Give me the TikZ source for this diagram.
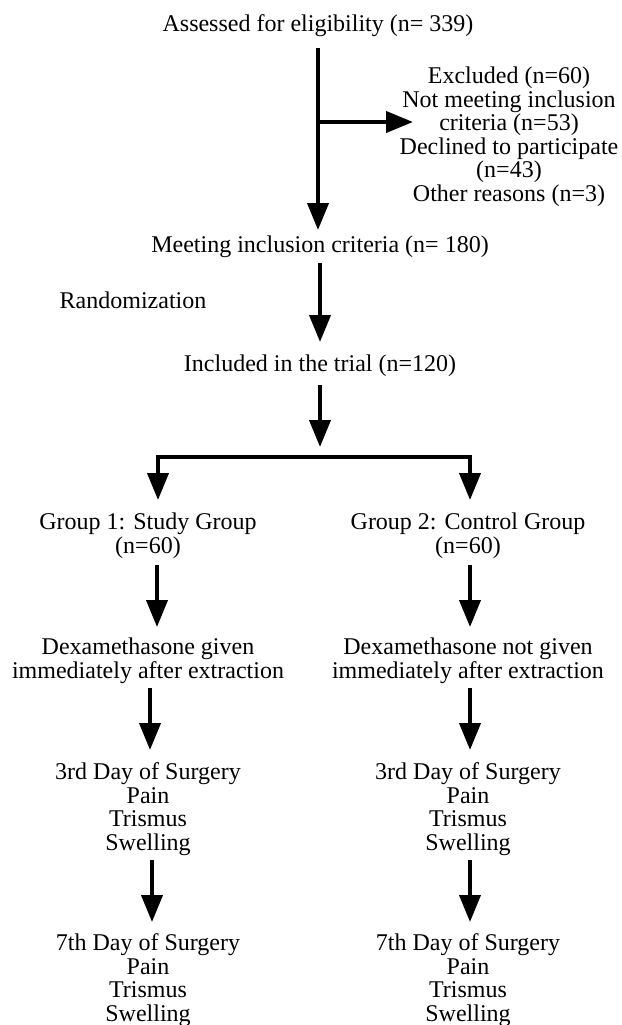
\documentclass[tikz,border=0pt]{standalone}
\usepackage{fontspec}
\setmainfont{Liberation Serif}
\usetikzlibrary{arrows.meta}
\begin{document}
\begin{tikzpicture}[x=1pt,y=-1pt,
  lbl/.style={align=center,inner sep=0pt,anchor=base,font=\fontsize{24}{23.5}\selectfont},
  arr/.style={line width=4pt,line join=miter,-{Triangle[width=21pt,length=27pt]}}]
\useasboundingbox (0,0) rectangle (621,1025);
\clip (0,0) rectangle (621,1025);
% texts (anchor base = baseline of the last line)
\node[lbl] (assess) at (318,32) {Assessed for eligibility (n= 339)};
\node[lbl] (excl) at (509,201) {Excluded (n=60)\\Not meeting inclusion\\criteria (n=53)\\Declined to participate\\(n=43)\\Other reasons (n=3)};
\node[lbl] (meet) at (320,252) {Meeting inclusion criteria (n= 180)};
\node[lbl] (rand) at (133,308) {Randomization};
\node[lbl] (incl) at (320,371) {Included in the trial (n=120)};
\node[lbl] (g1) at (148,553) {Group 1: Study Group\\(n=60)};
\node[lbl] (g2) at (468,553) {Group 2: Control Group\\(n=60)};
\node[lbl] (d1) at (148,678) {Dexamethasone given\\immediately after extraction};
\node[lbl] (d2) at (468,678) {Dexamethasone not given\\immediately after extraction};
\node[lbl] (t1) at (148,850) {3rd Day of Surgery\\Pain\\Trismus\\Swelling};
\node[lbl] (t2) at (468,850) {3rd Day of Surgery\\Pain\\Trismus\\Swelling};
\node[lbl] (s1) at (148,1021) {7th Day of Surgery\\Pain\\Trismus\\Swelling};
\node[lbl] (s2) at (468,1021) {7th Day of Surgery\\Pain\\Trismus\\Swelling};
% connector points
\coordinate (a1s) at (318,48);
\coordinate (a1e) at (318,230);
\coordinate (br) at (318,122);
\coordinate (bre) at (413,122);
\coordinate (a2s) at (320,263);
\coordinate (a2e) at (320,342);
\coordinate (a3s) at (320,385);
\coordinate (a3e) at (320,447);
\coordinate (barC) at (320,457);
\coordinate (dL) at (158,500);
\coordinate (dR) at (470,500);
\coordinate (l4s) at (157,565);
\coordinate (l4e) at (157,627);
\coordinate (r4s) at (470,565);
\coordinate (r4e) at (470,627);
\coordinate (l5s) at (150,688);
\coordinate (l5e) at (150,750);
\coordinate (r5s) at (470,688);
\coordinate (r5e) at (470,750);
\coordinate (l6s) at (152,860);
\coordinate (l6e) at (152,922);
\coordinate (r6s) at (470,860);
\coordinate (r6e) at (470,922);
% connectors
\draw[arr] (a1s) -- (a1e);
\draw[arr] (br) -- (bre);
\draw[arr] (a2s) -- (a2e);
\draw[arr] (a3s) -- (a3e);
\draw[arr] (barC) -| (dL);
\draw[arr] (barC) -| (dR);
\draw[arr] (l4s) -- (l4e);
\draw[arr] (r4s) -- (r4e);
\draw[arr] (l5s) -- (l5e);
\draw[arr] (r5s) -- (r5e);
\draw[arr] (l6s) -- (l6e);
\draw[arr] (r6s) -- (r6e);
\end{tikzpicture}
\end{document}
